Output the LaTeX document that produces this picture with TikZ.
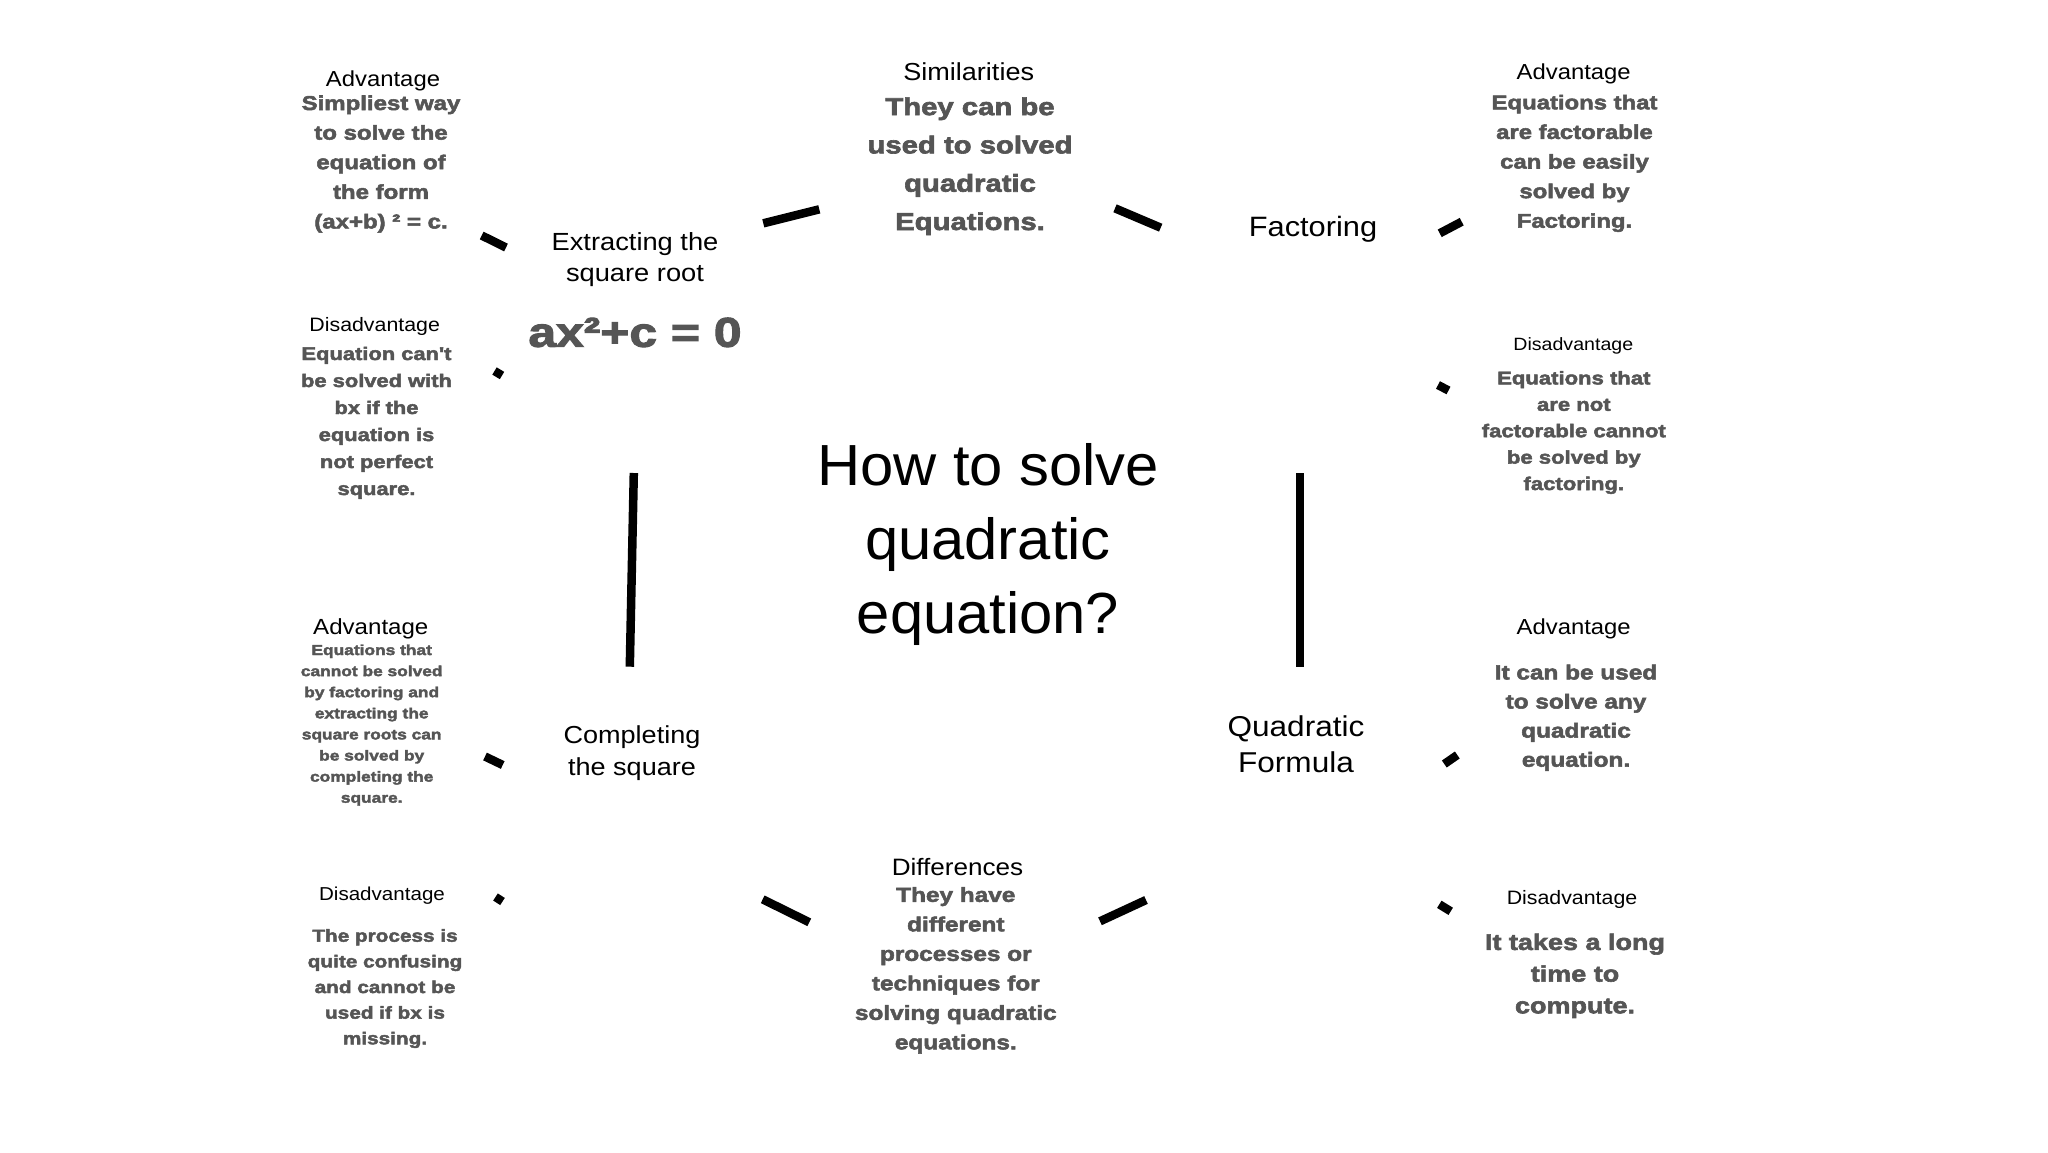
\documentclass[tikz,border=0pt]{standalone}
\usepackage{fontspec}
\setmainfont{Liberation Sans}
\newfontfamily\rg[FakeStretch=1.1]{Liberation Sans}
\newfontfamily\ttl[FakeStretch=1.03]{Liberation Sans}
\newfontfamily\hv[FakeStretch=1.2,FakeBold=2.6]{Liberation Sans Bold}
\definecolor{txtgray}{HTML}{555555}
\newcommand{\fs}[2]{\fontsize{#1}{#2}\selectfont}
\tikzset{
  lbl/.style={anchor=base, inner sep=0pt, align=center, text=black},
  body/.style={anchor=base, inner sep=0pt, align=center, text=txtgray},
  stub/.style={line width=8.5pt, draw=black, line cap=butt},
}
\begin{document}
\begin{tikzpicture}[x=1pt,y=-1pt]
\useasboundingbox[fill=white] (0,0) rectangle (2048,1152);
% (multi-line nodes: anchor base = baseline of last line)

% ---- left column
\node[lbl, font=\rg\fs{21.7}{26}] (advA) at (383,86) {Advantage};
\node[body, font=\hv\fs{20}{29.6}] (advAt) at (381,228.4) {Simpliest way\\to solve the\\equation of\\the form\\(ax+b) ² = c.};
\node[lbl, font=\rg\fs{19.4}{23}] (disA) at (374.7,331) {Disadvantage};
\node[body, font=\hv\fs{18.25}{27}] (disAt) at (376.5,495) {Equation can't\\be solved with\\bx if the\\equation is\\not perfect\\square.};
\node[lbl, font=\rg\fs{21.9}{26}] (advB) at (370.8,634.3) {Advantage};
\node[body, font=\hv\fs{14.45}{21.1}] (advBt) at (371.7,802.7) {Equations that\\cannot be solved\\by factoring and\\extracting the\\square roots can\\be solved by\\completing the\\square.};
\node[lbl, font=\rg\fs{18.7}{23}] (disB) at (382,900.7) {Disadvantage};
\node[body, font=\hv\fs{17.3}{25.65}] (disBt) at (385,1044.3) {The process is\\quite confusing\\and cannot be\\used if bx is\\missing.};

% ---- methods
\node[lbl, font=\rg\fs{24.8}{31.7}] (extr) at (635,281.7) {Extracting the\\square root};
\node[body, font=\hv\fs{41.5}{48}] (extrf) at (635,346.7) {ax²+c = 0};
\node[lbl, font=\rg\fs{24.6}{31.7}] (comp) at (632,775) {Completing\\the square};
\node[lbl, font=\rg\fs{28}{34}] (fact) at (1313,236.7) {Factoring};
\node[lbl, font=\rg\fs{28.7}{36}] (quad) at (1296,772.7) {Quadratic\\Formula};

% ---- centre column
\node[lbl, font=\rg\fs{24.6}{30}] (sim) at (968.7,80.7) {Similarities};
\node[body, font=\hv\fs{24.4}{38.3}] (simt) at (970,230) {They can be\\used to solved\\quadratic\\Equations.};
\node[lbl, font=\ttl\fs{58}{74}] (title) at (988,633.3) {How to solve\\quadratic\\equation?};
\node[lbl, font=\rg\fs{23.7}{28}] (diff) at (957.5,875) {Differences};
\node[body, font=\hv\fs{20.3}{29.5}] (difft) at (955.8,1049.3) {They have\\different\\processes or\\techniques for\\solving quadratic\\equations.};

% ---- right column
\node[lbl, font=\rg\fs{21.7}{26}] (advC) at (1573.7,79) {Advantage};
\node[body, font=\hv\fs{19.9}{29.6}] (advCt) at (1574.5,227.7) {Equations that\\are factorable\\can be easily\\solved by\\Factoring.};
\node[lbl, font=\rg\fs{17.8}{22}] (disC) at (1573.3,350) {Disadvantage};
\node[body, font=\hv\fs{18.4}{26.4}] (disCt) at (1573.8,490) {Equations that\\are not\\factorable cannot\\be solved by\\factoring.};
\node[lbl, font=\rg\fs{21.7}{26}] (advD) at (1573.7,634.3) {Advantage};
\node[body, font=\hv\fs{20.3}{29.1}] (advDt) at (1576,766.7) {It can be used\\to solve any\\quadratic\\equation.};
\node[lbl, font=\rg\fs{19.4}{23}] (disD) at (1572,904.3) {Disadvantage};
\node[body, font=\hv\fs{22.5}{31.7}] (disDt) at (1575,1013.3) {It takes a long\\time to\\compute.};

% ---- stubs
\coordinate (s1a) at (481.7,235.5);  \coordinate (s1b) at (506,247.5);
\coordinate (s2a) at (494.5,371);    \coordinate (s2b) at (502,375.5);
\coordinate (s3a) at (485,756.5);    \coordinate (s3b) at (502.7,765);
\coordinate (s4a) at (495.5,897);    \coordinate (s4b) at (502.5,901.5);
\coordinate (s5a) at (763.3,223.3);  \coordinate (s5b) at (819.3,209.3);
\coordinate (s6a) at (1115,208.3);   \coordinate (s6b) at (1160.7,227.7);
\coordinate (s7a) at (1439.7,233.3); \coordinate (s7b) at (1461.7,221.7);
\coordinate (s8a) at (1438,385);     \coordinate (s8b) at (1448.5,390.5);
\coordinate (s9a) at (1444.3,764);   \coordinate (s9b) at (1457.3,755);
\coordinate (s10a) at (1439.3,904.3);\coordinate (s10b) at (1450.7,911.3);
\coordinate (s11a) at (762.7,899.3); \coordinate (s11b) at (809.3,922.3);
\coordinate (s12a) at (1100,921.3);  \coordinate (s12b) at (1146,900);
\coordinate (s13a) at (633.8,473);   \coordinate (s13b) at (629.8,666.7);
\coordinate (s14a) at (1300,473);    \coordinate (s14b) at (1300,666.7);
\foreach \s in {1,...,14} { \draw[stub] (s\s a) -- (s\s b); }
\end{tikzpicture}
\end{document}
